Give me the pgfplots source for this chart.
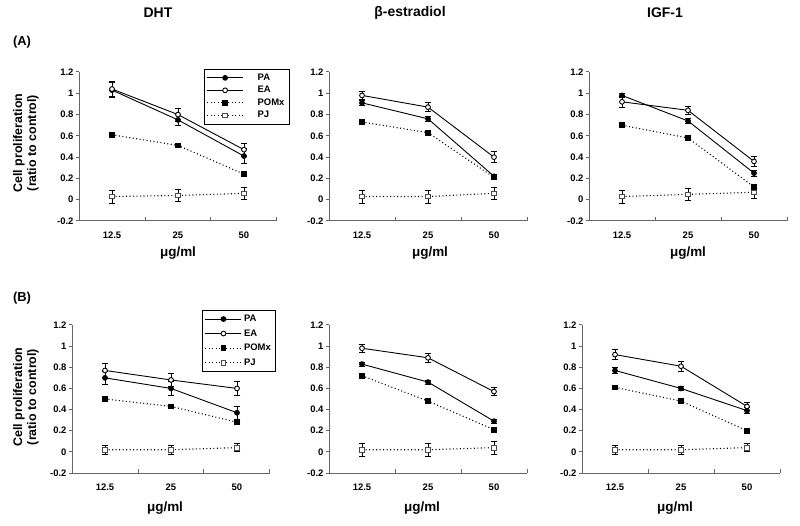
\documentclass[border=0pt]{standalone}
\usepackage{fontspec}
\setmainfont{Liberation Sans}
\usepackage{pgfplots}
\pgfplotsset{compat=1.18}

% shared look of the six small panels
\pgfplotsset{
  panel/.style={
    scale only axis, width=198bp, height=149bp,
    xmin=-0.5, xmax=2.5, ymin=-0.2, ymax=1.2,
    axis x line*=bottom, axis y line*=left,
    axis line style={-, black!60, line width=1bp},
    xtick={0,1,2}, xticklabels={12.5,25,50},
    minor xtick={-0.5,0.5,1.5,2.5},
    major x tick style={draw=none},
    minor tick length=4bp, major tick length=3.5bp,
    tick align=inside,
    ytick style={xshift=-3.5bp, black!60, line width=1bp},
    minor x tick style={black!60, line width=1bp},
    ytick={-0.2,0,0.2,0.4,0.6,0.8,1,1.2},
    /pgf/number format/assume math mode=true,
    /pgf/number format/fixed,
    tick label style={font=\fontsize{9.5}{11}\selectfont\bfseries},
    xticklabel style={yshift=-7bp},
    yticklabel style={xshift=-2bp},
    clip=false,
  },
  errs/.style={error bars/.cd, y dir=both, y explicit,
    error bar style={solid, line width=0.8bp, black},
    error mark options={rotate=90, mark size=3.3bp, solid, line width=0.8bp, black}},
  pa/.style={black, line width=0.9bp, mark=*, mark size=2.4bp, mark options={solid, fill=black}, errs},
  ea/.style={black, line width=0.9bp, mark=*, mark size=2.4bp, mark options={solid, fill=white}, errs},
  pomx/.style={black, line width=1.1bp, dash pattern=on 1bp off 2.5bp, mark=square*, mark size=2.3bp, mark options={solid, fill=black}, errs},
  pj/.style={black, line width=1.1bp, dash pattern=on 1bp off 2.5bp, mark=square*, mark size=2.3bp, mark options={solid, fill=white, draw=black!70, line width=0.8bp}, errs},
  leg/.style={
    legend image code/.code={\draw[mark repeat=2,mark phase=2,##1] plot coordinates {(0bp,0bp)(18bp,0bp)(36bp,0bp)};},
    legend style={draw=black, line width=0.7bp, font=\fontsize{9.5}{10.5}\selectfont\bfseries,
      inner sep=2.5bp, cells={anchor=west}, legend cell align=left},
  },
}

\begin{document}
\begin{tikzpicture}
\path (0bp,0bp) rectangle (800bp,526bp);

% column titles and row tags
\node[font=\fontsize{14}{16}\selectfont\bfseries] at (158bp,513bp) {DHT};
\node[font=\fontsize{14}{16}\selectfont\bfseries] at (410bp,513bp) {β-estradiol};
\node[font=\fontsize{14}{16}\selectfont\bfseries] at (665bp,513bp) {IGF-1};
\node[font=\fontsize{13}{15}\selectfont\bfseries] at (22bp,484bp) {(A)};
\node[font=\fontsize{13}{15}\selectfont\bfseries] at (22bp,228bp) {(B)};

\node[rotate=90, align=center, font=\fontsize{12.5}{14}\selectfont\bfseries] at (26bp,383bp) {Cell proliferation\\(ratio to control)};
\node[rotate=90, align=center, font=\fontsize{12.5}{14}\selectfont\bfseries] at (26bp,129bp) {Cell proliferation\\(ratio to control)};

\foreach \xx/\yy in {178/273, 430/273, 688/273, 165/18, 422/18, 675/18}
  \node[font=\fontsize{13.5}{15}\selectfont\bfseries] at (\xx bp,\yy bp) {μg/ml};

% ---------- row A ----------
\begin{axis}[panel, at={(79bp,305bp)}, leg,
  legend style={at={(0.63,1.02)}, anchor=north west, row sep=0.5bp,
    /tikz/every odd column/.append style={column sep=12bp}}]
\addplot[pa] coordinates {(0,1.03)+-(0,0.07) (1,0.75)+-(0,0.05) (2,0.41)+-(0,0.07)};
\addlegendentry{PA}
\addplot[ea] coordinates {(0,1.04)+-(0,0.07) (1,0.80)+-(0,0.06) (2,0.47)+-(0,0.06)};
\addlegendentry{EA}
\addplot[pomx] coordinates {(0,0.61)+-(0,0.01) (1,0.51)+-(0,0.01) (2,0.24)+-(0,0.01)};
\addlegendentry{POMx}
\addplot[pj] coordinates {(0,0.03)+-(0,0.06) (1,0.04)+-(0,0.06) (2,0.06)+-(0,0.06)};
\addlegendentry{PJ}
\end{axis}

\begin{axis}[panel, at={(329bp,305bp)}]
\addplot[pa] coordinates {(0,0.91)+-(0,0.02) (1,0.76)+-(0,0.02) (2,0.22)+-(0,0.02)};
\addplot[ea] coordinates {(0,0.98)+-(0,0.04) (1,0.87)+-(0,0.04) (2,0.40)+-(0,0.05)};
\addplot[pomx] coordinates {(0,0.73)+-(0,0.01) (1,0.63)+-(0,0.01) (2,0.21)+-(0,0.01)};
\addplot[pj] coordinates {(0,0.03)+-(0,0.06) (1,0.03)+-(0,0.06) (2,0.06)+-(0,0.06)};
\end{axis}

\begin{axis}[panel, at={(589bp,305bp)}]
\addplot[pa] coordinates {(0,0.98)+-(0,0.02) (1,0.74)+-(0,0.02) (2,0.25)+-(0,0.03)};
\addplot[ea] coordinates {(0,0.92)+-(0,0.05) (1,0.84)+-(0,0.04) (2,0.36)+-(0,0.05)};
\addplot[pomx] coordinates {(0,0.70)+-(0,0.01) (1,0.58)+-(0,0.01) (2,0.12)+-(0,0.01)};
\addplot[pj] coordinates {(0,0.03)+-(0,0.06) (1,0.05)+-(0,0.06) (2,0.07)+-(0,0.06)};
\end{axis}

% ---------- row B ----------
\begin{axis}[panel, at={(72bp,53bp)}, height=148bp, leg,
  legend style={at={(0.657,1.10)}, anchor=north west, row sep=2.5bp}]
\addplot[pa] coordinates {(0,0.70)+-(0,0.06) (1,0.60)+-(0,0.07) (2,0.37)+-(0,0.06)};
\addlegendentry{PA}
\addplot[ea] coordinates {(0,0.77)+-(0,0.07) (1,0.68)+-(0,0.06) (2,0.60)+-(0,0.07)};
\addlegendentry{EA}
\addplot[pomx] coordinates {(0,0.50)+-(0,0.01) (1,0.43)+-(0,0.01) (2,0.28)+-(0,0.01)};
\addlegendentry{POMx}
\addplot[pj] coordinates {(0,0.02)+-(0,0.04) (1,0.02)+-(0,0.04) (2,0.04)+-(0,0.04)};
\addlegendentry{PJ}
\end{axis}

\begin{axis}[panel, at={(329bp,53bp)}, height=148bp]
\addplot[pa] coordinates {(0,0.83)+-(0,0.02) (1,0.66)+-(0,0.02) (2,0.29)+-(0,0.02)};
\addplot[ea] coordinates {(0,0.98)+-(0,0.04) (1,0.89)+-(0,0.04) (2,0.57)+-(0,0.04)};
\addplot[pomx] coordinates {(0,0.72)+-(0,0.01) (1,0.48)+-(0,0.01) (2,0.21)+-(0,0.01)};
\addplot[pj] coordinates {(0,0.02)+-(0,0.06) (1,0.02)+-(0,0.06) (2,0.04)+-(0,0.06)};
\end{axis}

\begin{axis}[panel, at={(582bp,53bp)}, height=148bp]
\addplot[pa] coordinates {(0,0.77)+-(0,0.03) (1,0.60)+-(0,0.02) (2,0.39)+-(0,0.03)};
\addplot[ea] coordinates {(0,0.92)+-(0,0.05) (1,0.81)+-(0,0.05) (2,0.43)+-(0,0.04)};
\addplot[pomx] coordinates {(0,0.61)+-(0,0.01) (1,0.48)+-(0,0.01) (2,0.20)+-(0,0.01)};
\addplot[pj] coordinates {(0,0.02)+-(0,0.04) (1,0.02)+-(0,0.04) (2,0.04)+-(0,0.04)};
\end{axis}
\end{tikzpicture}
\end{document}
